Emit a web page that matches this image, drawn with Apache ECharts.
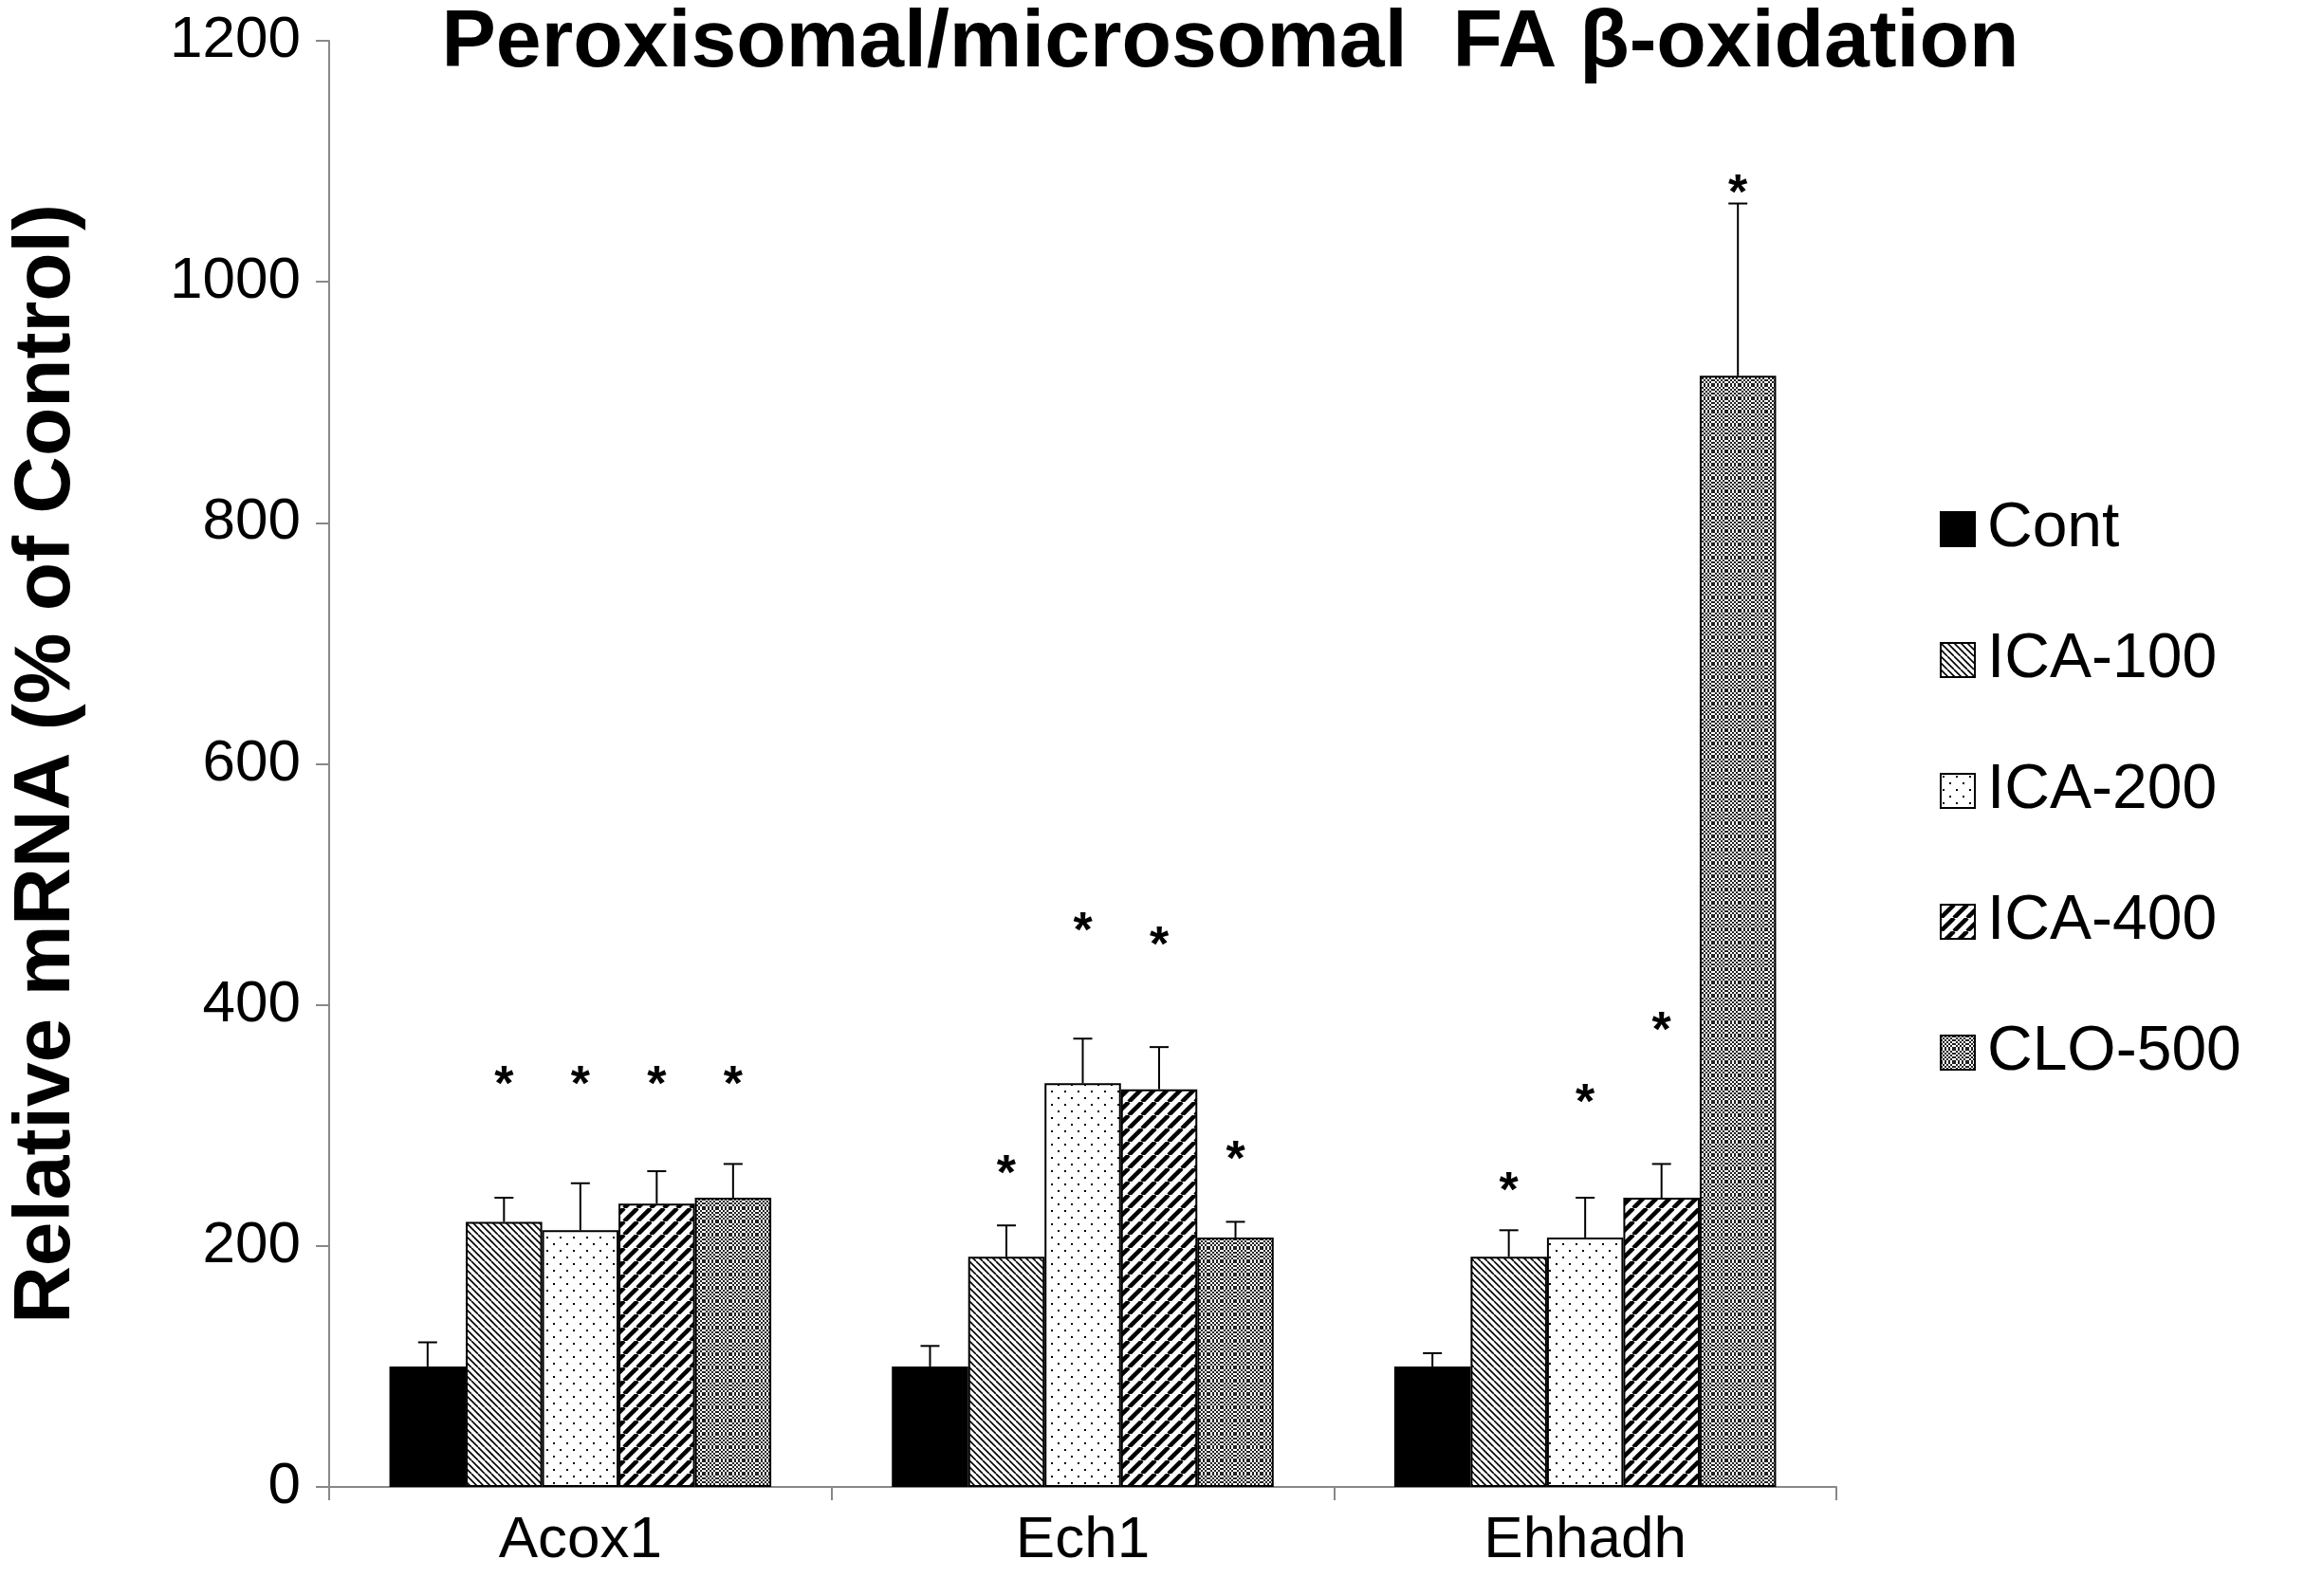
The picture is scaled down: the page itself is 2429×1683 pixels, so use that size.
<!DOCTYPE html>
<html><head><meta charset="utf-8">
<script src="https://cdn.jsdelivr.net/npm/echarts@6/dist/echarts.min.js"></script>
<style>html,body{margin:0;background:#fff}#c{width:2429px;height:1683px}</style>
</head><body><div id="c"></div>
<script>
const categories = ['Acox1','Ech1','Ehhadh'];
const seriesNames = ['Cont','ICA-100','ICA-200','ICA-400','CLO-500'];
const cont   = [100,100,100];
const ica100 = [220,191,191];
const ica200 = [213,335,207];
const ica400 = [235,330,240];
const clo500 = [240,207,922];
const errCont   = [120,117,111];
const errIca100 = [240,217,213];
const errIca200 = [252,372,240];
const errIca400 = [262,365,268];
const errClo500 = [268,220,1065];
const starCont   = [null,null,null];
const starIca100 = [332,258,244];
const starIca200 = [332,460,317];
const starIca400 = [332,448,377];
const starClo500 = [332,270,1072];
const yTicks = [0,200,400,600,800,1000,1200];

function pat(kind){
  const c=document.createElement('canvas');const s=14;c.width=s;c.height=s;
  const g=c.getContext('2d');g.fillStyle='#fff';g.fillRect(0,0,s,s);g.fillStyle='#000';g.strokeStyle='#000';
  if(kind==='bs'){g.lineWidth=1.6;for(let k=-s;k<=s*2;k+=s/2){g.beginPath();g.moveTo(k,0);g.lineTo(k+s,s);g.stroke();}}
  if(kind==='dot'){g.fillRect(2,2,2,2);g.fillRect(9,9,2,2);}
  if(kind==='fs'){g.lineWidth=4.5;for(let k=-s;k<=s*2;k+=s){g.beginPath();g.moveTo(k,s);g.lineTo(k+s,0);g.stroke();}}
  if(kind==='chk'){g.fillStyle='#fff';g.fillRect(0,0,s,s);g.fillStyle='#222';for(let i=0;i<s;i+=2)for(let j=0;j<s;j+=2)if(((i+j)/2)%2===0)g.fillRect(i,j,2,2);}
  return {image:c,repeat:'repeat'};
}
const colors=['#000',pat('bs'),pat('dot'),pat('fs'),pat('chk')];
const vals=[cont,ica100,ica200,ica400,clo500];
const errs=[errCont,errIca100,errIca200,errIca400,errClo500];
const stars=[starCont,starIca100,starIca200,starIca400,starClo500];
const GAP=0.24;
const series=seriesNames.map((n,i)=>({name:n,type:'bar',data:vals[i],barGap:0,barCategoryGap:'24%',
  itemStyle:{color:colors[i],borderColor:'#000',borderWidth:2}}));
const eData=[];
for(let i=0;i<5;i++)for(let c=0;c<3;c++)eData.push([c,vals[i][c],errs[i][c],i,stars[i][c]]);
series.push({type:'custom',data:eData,z:10,silent:true,renderItem:function(p,api){
  const c=api.value(0),v=api.value(1),e=api.value(2),i=api.value(3),st=api.value(4);
  const band=api.size([1,0])[0];const bw=band*(1-GAP)/5;
  const x=api.coord([c,0])[0]-band*(1-GAP)/2+bw*(i+0.5);
  const y1=api.coord([c,v])[1],y2=api.coord([c,e])[1];
  const ch=[{type:'line',shape:{x1:x,y1:y1,x2:x,y2:y2},style:{stroke:'#000',lineWidth:2}},
    {type:'line',shape:{x1:x-10,y1:y2,x2:x+10,y2:y2},style:{stroke:'#000',lineWidth:2}}];
  if(st!=null&&!isNaN(st)){const ys=api.coord([c,st])[1];
    ch.push({type:'text',style:{text:'*',x:x,y:ys,align:'center',verticalAlign:'middle',font:'bold 52px "Liberation Sans"',fill:'#000'}});}
  return {type:'group',children:ch};}});
const chart=echarts.init(document.getElementById('c'));
chart.setOption({
  animation:false,
  title:{text:'Peroxisomal/microsomal  FA β-oxidation',left:1292,top:-2,textAlign:'center',textStyle:{fontFamily:'Liberation Sans',fontWeight:'bold',fontSize:86,color:'#000'}},
  legend:{data:seriesNames,orient:'vertical',left:2040,top:520,itemWidth:36,itemHeight:36,itemGap:72,icon:'rect',
    textStyle:{fontFamily:'Liberation Sans',fontSize:66,color:'#000',padding:[0,0,0,8]}},
  grid:{left:338,right:493,top:43,bottom:115},
  xAxis:{type:'category',data:categories,axisLine:{lineStyle:{color:'#888',width:2}},
    axisTick:{show:true,length:14,lineStyle:{color:'#888',width:2}},
    axisLabel:{fontFamily:'Liberation Sans',fontSize:62,color:'#000',margin:26}},
  yAxis:{type:'value',min:yTicks[0],max:yTicks[yTicks.length-1],interval:200,
    name:'Relative mRNA (% of Control)',nameLocation:'middle',nameGap:255,
    nameTextStyle:{fontFamily:'Liberation Sans',fontWeight:'bold',fontSize:84,color:'#000'},
    axisLine:{show:true,lineStyle:{color:'#888',width:2}},axisTick:{show:true,length:14,lineStyle:{color:'#888',width:2}},
    splitLine:{show:false},axisLabel:{fontFamily:'Liberation Sans',fontSize:62,color:'#000',margin:30,formatter:v=>String(v)}},
  series:series
});
</script></body></html>
